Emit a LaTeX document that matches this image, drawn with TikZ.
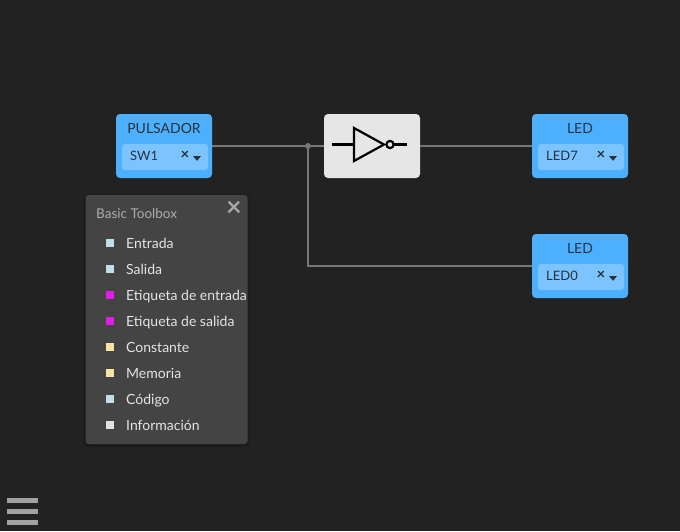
\documentclass[tikz,border=0pt]{standalone}
\usepackage{fontspec}
\setmainfont{Lato}
\usetikzlibrary{shadows.blur,calc}
\definecolor{bgc}{HTML}{222222}
\definecolor{wirec}{HTML}{777777}
\definecolor{bluec}{HTML}{4DB0FF}
\definecolor{bluein}{HTML}{7CC4FF}
\definecolor{inkc}{HTML}{28323C}
\definecolor{gatec}{HTML}{E6E6E6}
\definecolor{panelc}{HTML}{444444}
\definecolor{paneltxt}{HTML}{E4E4E4}
\definecolor{cyanb}{HTML}{BFDFEA}
\definecolor{magb}{HTML}{DC1EE6}
\definecolor{yelb}{HTML}{F8E3A0}
\definecolor{grayb}{HTML}{E0E0E0}
\tikzset{
 x=1pt,y=-1pt,
 block/.style={fill=bluec,rounded corners=4pt,minimum width=96pt,minimum height=64pt,inner sep=0pt},
 gatebox/.style={fill=gatec,rounded corners=4pt,minimum width=96pt,minimum height=64pt,inner sep=0pt},
 inbox/.style={fill=bluein,rounded corners=3pt,minimum width=86pt,minimum height=26pt,inner sep=0pt},
 blocktitle/.style={text=inkc,font=\fontsize{14}{16}\selectfont,inner sep=0pt},
 blockval/.style={text=inkc,font=\fontsize{13}{15}\selectfont,inner sep=0pt,anchor=west},
 crossm/.style={text=inkc,font=\fontsize{15}{15}\selectfont\bfseries,inner sep=0pt},
 wire/.style={draw=wirec,line width=1.6pt},
 sym/.style={draw=black,line width=2.2pt},
 item/.style={text=paneltxt,font=\fontsize{14}{16}\selectfont,inner sep=0pt,anchor=base west},
 bullet/.style={minimum size=8pt,inner sep=0pt},
 bar/.style={fill=black!37!white,minimum width=31pt,minimum height=5pt,inner sep=0pt},
}
\newcommand{\caret}[1]{\fill[inkc] ($(#1)+(-4,-2.4)$) -- ($(#1)+(4,-2.4)$) -- ($(#1)+(0,2.4)$) -- cycle;}
\begin{document}
\begin{tikzpicture}
\useasboundingbox[fill=bgc] (0,0) rectangle (680,531);
% blocks
\node[block] (puls) at (164,146) {};
\node[gatebox] (gate) at (372,146) {};
\node[block] (led7) at (580,146) {};
\node[block] (led0) at (580,266) {};
\node[circle,fill=wirec,minimum size=6pt,inner sep=0pt] (junc) at (308,146) {};
% wires
\draw[wire] (puls.east) -- (junc);
\draw[wire] (junc) -- (gate.west);
\draw[wire] (gate.east) -- (led7.west);
\draw[wire] (junc) |- (led0.west);
% block content
\node[inbox] at (165,157) {};
\node[inbox] at (581,157) {};
\node[inbox] at (581,277) {};
\node[blocktitle] at (164,128.5) {PULSADOR};
\node[blocktitle] at (580,128.5) {LED};
\node[blocktitle] at (580,248.5) {LED};
\node[blockval] at (130,155.5) {SW1};
\node[blockval] at (546,155.5) {LED7};
\node[blockval] at (546,275.5) {LED0};
\node[crossm] at (185,155.5) {×};
\node[crossm] at (601,155.5) {×};
\node[crossm] at (601,275.5) {×};
\caret{197,158.4}
\caret{613,158.4}
\caret{613,278.4}
% inverter symbol
\draw[sym] (332,144.5) -- (354,144.5);
\draw[sym,line join=miter] (354,128) -- (354,161) -- (384,144.5) -- cycle;
\draw[sym] (390,144.5) circle (3.6);
\draw[sym] (393.6,144.5) -- (407,144.5);
% toolbox
\node[fill=panelc,rounded corners=3pt,minimum width=162pt,minimum height=249pt,inner sep=0pt,blur shadow={shadow blur steps=6,shadow xshift=0pt,shadow yshift=-1pt,shadow blur radius=3pt}] (panel) at (166.5,319.5) {};
\node[text=black!32!white,font=\fontsize{13.5}{15}\selectfont,inner sep=0pt,anchor=west] at (96,213.5) {Basic Toolbox};
\node[text=black!35!white,font=\fontsize{27}{27}\selectfont\bfseries,inner sep=0pt] at (234,209) {×};
\foreach \yy/\cc/\tt in {243/cyanb/Entrada,269/cyanb/Salida,295/magb/Etiqueta de entrada,321/magb/Etiqueta de salida,347/yelb/Constante,373/yelb/Memoria,399/cyanb/Código,425/grayb/Información}{
 \node[bullet,fill=\cc] at (110,\yy) {};
 \node[item] at (126,\yy+5) {\tt};
}
% menu
\node[bar] at (22.5,500.5) {};
\node[bar] at (22.5,511.5) {};
\node[bar] at (22.5,522.5) {};
\end{tikzpicture}
\end{document}
